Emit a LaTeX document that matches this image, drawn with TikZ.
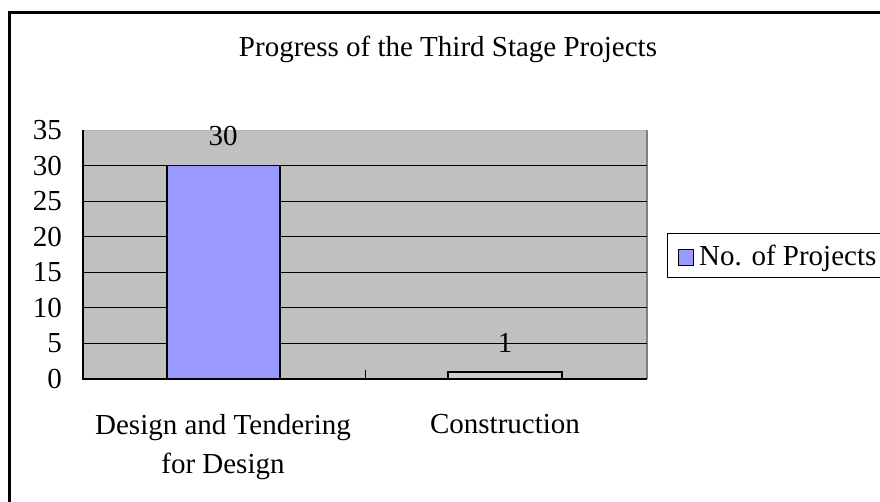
\documentclass[tikz,border=0pt]{standalone}
\usepackage{fontspec}
\setmainfont{Liberation Serif}
\definecolor{plotgray}{HTML}{C0C0C0}
\definecolor{barblue}{HTML}{9999FF}
\definecolor{edgegray}{HTML}{808080}

\begin{document}
\begin{tikzpicture}[x=1pt, y=-1pt, font=\fontsize{29}{39}\selectfont,
  gridline/.style={black, line width=1pt},
  bar/.style={draw=black, line width=1.6pt}]
	\useasboundingbox (0,0) rectangle (880,501);
	\clip (0,0) rectangle (880,501);
	\draw[line width=3pt] (9.5,12) rectangle (900,530);
	\node (title) at (448,49) {Progress of the Third Stage Projects};
	% plot area
	\fill[plotgray] (83,130) rectangle (647,379);
	\draw[edgegray!60, line width=1pt] (83,130) -- (647,130);
	\draw[edgegray, line width=2.5pt] (647,130) -- (647,379);
	\foreach \v in {5,10,...,30}
	  \draw[gridline] (83,{379-\v*249/35}) -- (647,{379-\v*249/35});
	\foreach \v in {0,5,...,35}
	  \node[anchor=east, inner sep=0pt] (ylab\v) at (62,{379-\v*249/35}) {\v};
	\draw[line width=1.3pt] (83,130) -- (83,379) -- (647,379);
	\draw[line width=1pt] (365,379) -- (365,370);
	% bars
	\draw[bar, fill=barblue] (167,379) rectangle (280,{379-30*249/35});
	\draw[bar, fill=plotgray!80] (448,379) rectangle (562,{379-1*249/35});
	\node (val1) at (223,136) {30};
	\node (val2) at (505,343) {1};
	\node[align=center, anchor=north] (cat1) at (223,411) {Design and Tendering\\for Design};
	\node[anchor=north] (cat2) at (505,411) {Construction};
	% legend
	\draw[line width=1pt, fill=white] (667,233) rectangle (890,277);
	\draw[line width=1pt, fill=barblue] (678,249) rectangle (693,265);
	\node[anchor=west, inner sep=0pt] (leg) at (699,258) {No. of Projects};
\end{tikzpicture}
\end{document}
